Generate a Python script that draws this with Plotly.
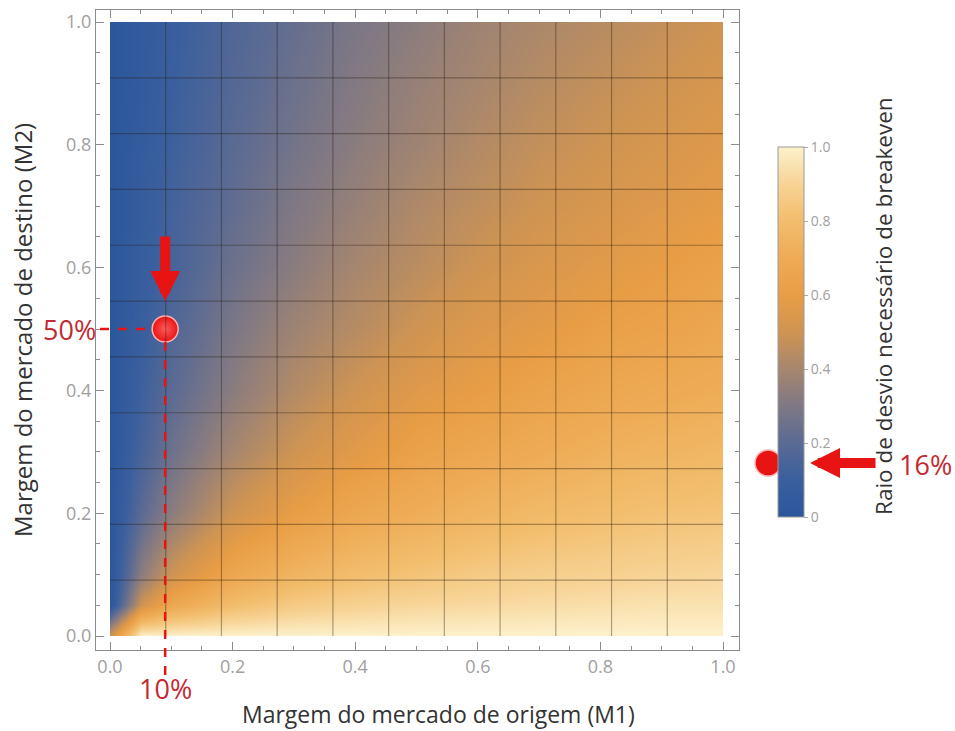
import plotly.graph_objects as go

# ---------------- data ----------------
m1_values = [0, 0.05, 0.1, 0.2, 0.3, 0.4, 0.5, 0.6, 0.7, 0.8, 0.9, 1.0]   # Margem do mercado de origem
m2_values = [0, 0.05, 0.1, 0.2, 0.3, 0.4, 0.5, 0.6, 0.7, 0.8, 0.9, 1.0]   # Margem do mercado de destino
# ratio, one row per M2 value (bottom to top), one column per M1 value
ratio_rows = [
    [0.50, 1.00, 1.00, 1.00, 1.00, 1.00, 1.00, 1.00, 1.00, 1.00, 1.00, 1.00],
    [0.00, 0.50, 0.67, 0.80, 0.86, 0.89, 0.91, 0.92, 0.93, 0.94, 0.95, 0.95],
    [0.00, 0.33, 0.50, 0.67, 0.75, 0.80, 0.83, 0.86, 0.88, 0.89, 0.90, 0.91],
    [0.00, 0.20, 0.33, 0.50, 0.60, 0.67, 0.71, 0.75, 0.78, 0.80, 0.82, 0.83],
    [0.00, 0.14, 0.25, 0.40, 0.50, 0.57, 0.63, 0.67, 0.70, 0.73, 0.75, 0.77],
    [0.00, 0.11, 0.20, 0.33, 0.43, 0.50, 0.56, 0.60, 0.64, 0.67, 0.69, 0.71],
    [0.00, 0.09, 0.17, 0.29, 0.38, 0.44, 0.50, 0.55, 0.58, 0.62, 0.64, 0.67],
    [0.00, 0.08, 0.14, 0.25, 0.33, 0.40, 0.45, 0.50, 0.54, 0.57, 0.60, 0.63],
    [0.00, 0.07, 0.13, 0.22, 0.30, 0.36, 0.42, 0.46, 0.50, 0.53, 0.56, 0.59],
    [0.00, 0.06, 0.11, 0.20, 0.27, 0.33, 0.38, 0.43, 0.47, 0.50, 0.53, 0.56],
    [0.00, 0.05, 0.10, 0.18, 0.25, 0.31, 0.36, 0.40, 0.44, 0.47, 0.50, 0.53],
    [0.00, 0.05, 0.09, 0.17, 0.23, 0.29, 0.33, 0.38, 0.41, 0.44, 0.47, 0.50],
]
mesh_count = 10                      # mesh lines in each direction
tick_values = [0, 0.2, 0.4, 0.6, 0.8, 1.0]
tick_labels = ["0.0", "0.2", "0.4", "0.6", "0.8", "1.0"]
cbar_tick_labels = ["0", "0.2", "0.4", "0.6", "0.8", "1.0"]
point_m1 = 0.09
point_m2 = 0.5
point_ratio = 0.16
label_m1 = "10%"
label_m2 = "50%"
label_ratio = "16%"

# ---------------- layout geometry ----------------
W, H = 955, 731
ML, MR, MT, MB = 96, 216, 10, 81
PW, PH = W - ML - MR, H - MT - MB
XR = [-14 / 613, 1 + 16 / 613]
YR = [-14 / 614, 1 + 12 / 614]


def xp(v):
    return (v - XR[0]) / (XR[1] - XR[0])


def yp(v):
    return (v - YR[0]) / (YR[1] - YR[0])


def px2x(px):  # container px -> paper x
    return (px - ML) / PW


def px2y(py):
    return (H - MB - py) / PH


colorscale = [
    [0.0, "#2b579b"], [0.1, "#3a5f9e"], [0.2, "#5a6a93"], [0.3, "#7f7884"],
    [0.4, "#a6866e"], [0.5, "#cf9452"], [0.6, "#e89d45"], [0.7, "#eeab55"],
    [0.8, "#f2bd6c"], [0.9, "#f7d395"], [1.0, "#fdf1cc"],
]

CB_LEFT, CB_TOP, CB_BOTTOM, CB_TH = 778, 147, 517, 26
RED = "#e81414"
RED_TXT = "#c42a33"
FONT = "Open Sans"

fig = go.Figure()
# heatmap on the inner axes (x / y), range exactly [0, 1]
fig.add_trace(go.Heatmap(
    x=m1_values, y=m2_values, z=ratio_rows,
    xaxis="x", yaxis="y",
    zsmooth="best", zmin=0, zmax=1, colorscale=colorscale,
    hoverinfo="skip",
    colorbar=dict(
        x=px2x(CB_LEFT), xanchor="left",
        y=px2y(CB_BOTTOM), yanchor="bottom",
        lenmode="pixels", len=CB_BOTTOM - CB_TOP,
        thickness=CB_TH, xpad=0, ypad=0,
        outlinecolor="#9a9a9a", outlinewidth=1,
        ticks="outside", ticklen=4, tickcolor="#aaaaaa",
        tickvals=tick_values, ticktext=cbar_tick_labels,
        tickfont=dict(family=FONT, size=14, color="#a0a0a0"),
    ),
))

# red ball on the frame axes (x2 / y2)
fig.add_trace(go.Scatter(
    x=[point_m1], y=[point_m2],
    xaxis="x2", yaxis="y2", mode="markers", cliponaxis=False,
    marker=dict(size=26, color=RED, line=dict(color="#ffb0b0", width=1.5),
                gradient=dict(type="radial", color="#ff5a5a")),
    hoverinfo="skip", showlegend=False,
))

axis_common = dict(
    showline=True, linecolor="#8c8c8c", linewidth=1, mirror="ticks",
    ticks="inside", ticklen=8, tickcolor="#8c8c8c",
    tickvals=tick_values, ticktext=tick_labels,
    minor=dict(dtick=0.05, tick0=0, ticks="inside", ticklen=4, tickcolor="#8c8c8c"),
    showgrid=False, zeroline=False,
    tickfont=dict(family=FONT, size=18, color="#a0a0a0"),
)

fig.update_layout(
    width=W, height=H,
    margin=dict(l=ML, r=MR, t=MT, b=MB),
    paper_bgcolor="white", plot_bgcolor="rgba(0,0,0,0)",
    showlegend=False,
    xaxis=dict(range=[0, 1], domain=[xp(0), xp(1)], anchor="y", visible=False),
    yaxis=dict(range=[0, 1], domain=[yp(0), yp(1)], anchor="x", visible=False),
    xaxis2=dict(range=XR, domain=[0, 1], anchor="y2", **axis_common),
    yaxis2=dict(range=YR, domain=[0, 1], anchor="x2", **axis_common),
)

# mesh lines
shapes = []
for k in range(1, mesh_count + 1):
    v = k / (mesh_count + 1)
    shapes.append(dict(type="line", xref="x", yref="y", x0=v, x1=v, y0=0, y1=1,
                       line=dict(color="rgba(40,28,15,0.38)", width=1.2), layer="above"))
    shapes.append(dict(type="line", xref="x", yref="y", x0=0, x1=1, y0=v, y1=v,
                       line=dict(color="rgba(40,28,15,0.38)", width=1.2), layer="above"))

# dashed guide lines from the point
r_px = 13
shapes.append(dict(type="line", xref="paper", yref="paper",
                   x0=px2x(100), x1=xp(point_m1) - r_px / PW,
                   y0=yp(point_m2), y1=yp(point_m2),
                   line=dict(color=RED, width=2.5, dash="dash"), layer="above"))
shapes.append(dict(type="line", xref="paper", yref="paper",
                   x0=xp(point_m1), x1=xp(point_m1),
                   y0=yp(point_m2) - r_px / PH, y1=px2y(682),
                   line=dict(color=RED, width=2.5, dash="dash"), layer="above"))

# ball marking the ratio on the colour bar
cb_ball_y = 463
cb_ball_x = CB_LEFT - 10
shapes.append(dict(type="circle", xref="paper", yref="paper",
                   x0=px2x(cb_ball_x - 13), x1=px2x(cb_ball_x + 13),
                   y0=px2y(cb_ball_y + 13), y1=px2y(cb_ball_y - 13),
                   fillcolor=RED, line=dict(color="#ffb0b0", width=1.5), layer="above"))
fig.update_layout(shapes=shapes)

ann = []
# arrows
ann.append(dict(xref="paper", yref="paper", x=xp(point_m1), y=yp(point_m2) + 28 / PH,
                ax=0, ay=-66, text="", showarrow=True, arrowhead=2, arrowsize=0.6,
                arrowwidth=10, arrowcolor=RED))
ann.append(dict(xref="paper", yref="paper", x=px2x(810), y=px2y(cb_ball_y),
                ax=67, ay=0, text="", showarrow=True, arrowhead=2, arrowsize=0.6,
                arrowwidth=10, arrowcolor=RED))
# red labels
ann.append(dict(xref="paper", yref="paper", x=px2x(98), y=yp(point_m2), text=label_m2,
                showarrow=False, xanchor="right", yanchor="middle",
                font=dict(family=FONT, size=27, color=RED_TXT)))
ann.append(dict(xref="paper", yref="paper", x=xp(point_m1), y=px2y(688), text=label_m1,
                showarrow=False, xanchor="center", yanchor="middle",
                font=dict(family=FONT, size=27, color=RED_TXT)))
ann.append(dict(xref="paper", yref="paper", x=px2x(897), y=px2y(cb_ball_y + 1), text=label_ratio,
                showarrow=False, xanchor="left", yanchor="middle",
                font=dict(family=FONT, size=27, color=RED_TXT)))
# axis titles
ann.append(dict(xref="paper", yref="paper", x=px2x(438), y=px2y(714),
                text="Margem do mercado de origem (M1)", showarrow=False,
                xanchor="center", yanchor="middle",
                font=dict(family=FONT, size=23, color="#333333")))
ann.append(dict(xref="paper", yref="paper", x=px2x(22), y=px2y(330),
                text="Margem do mercado de destino (M2)", showarrow=False, textangle=-90,
                xanchor="center", yanchor="middle",
                font=dict(family=FONT, size=24, color="#333333")))
ann.append(dict(xref="paper", yref="paper", x=px2x(883), y=px2y(306),
                text="Raio de desvio necessário de breakeven", showarrow=False, textangle=-90,
                xanchor="center", yanchor="middle",
                font=dict(family=FONT, size=22.5, color="#333333")))
fig.update_layout(annotations=ann)

fig.write_html("out.html", config={"displayModeBar": False},
               post_script="document.body.style.margin='0';")
